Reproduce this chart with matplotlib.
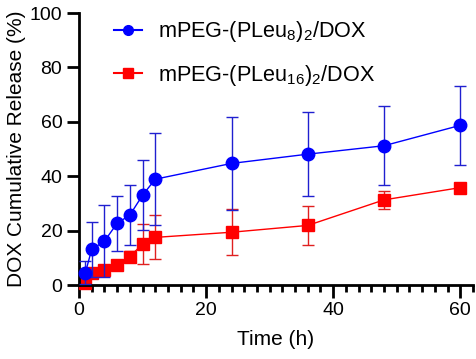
import matplotlib
matplotlib.use('Agg')
import matplotlib.pyplot as plt
from matplotlib.lines import Line2D
from matplotlib.ticker import MultipleLocator

plt.rcParams['font.family'] = ['Liberation Sans', 'DejaVu Sans']
plt.rcParams['mathtext.fontset'] = 'custom'
plt.rcParams['mathtext.rm'] = 'Liberation Sans'
plt.rcParams['mathtext.it'] = 'Liberation Sans:italic'

# release data (time in h, cumulative release in %)
time_h = [1, 2, 4, 6, 8, 10, 12, 24, 36, 48, 60]
pleu8_mean = [4.5, 13.1, 16.1, 22.7, 25.7, 33.0, 38.9, 44.7, 48.1, 51.2, 58.7]
pleu8_sd = [4.3, 10.2, 13.3, 10.1, 11.0, 12.8, 16.8, 17.0, 15.4, 14.5, 14.4]
pleu16_mean = [0.8, 4.3, 5.5, 7.5, 10.4, 15.1, 17.5, 19.4, 21.9, 31.3, 35.8]
pleu16_sd = [1.0, 1.5, 1.5, 1.2, 2.0, 7.5, 8.1, 8.5, 7.3, 3.2, 1.0]

labels = [r'mPEG-(PLeu$\mathregular{_8}$)$\mathregular{_2}$/DOX',
          r'mPEG-(PLeu$\mathregular{_{16}}$)$\mathregular{_2}$/DOX']

fig = plt.figure(figsize=(4.77, 3.59), dpi=100)
ax = fig.add_axes([79 / 477, 1 - 285 / 359, (473 - 79) / 477, (285 - 13) / 359])

ax.errorbar(time_h, pleu8_mean, yerr=pleu8_sd, color='#0000FF', ecolor='#2020D0',
            marker='o', markersize=9, linewidth=1.0, elinewidth=1.0, capsize=4,
            capthick=1.0, zorder=3, clip_on=False)
ax.errorbar(time_h, pleu16_mean, yerr=pleu16_sd, color='#FF0000', ecolor='#E02020',
            marker='s', markersize=8.5, linewidth=1.0, elinewidth=1.0, capsize=4,
            capthick=1.0, zorder=2, clip_on=False)

ax.set_xlim(0, 62)
ax.set_ylim(0, 100)
ax.xaxis.set_major_locator(MultipleLocator(20))
ax.xaxis.set_minor_locator(MultipleLocator(2))
ax.yaxis.set_major_locator(MultipleLocator(20))

for side in ['top', 'right']:
    ax.spines[side].set_visible(False)
for side in ['left', 'bottom']:
    ax.spines[side].set_linewidth(2)

ax.tick_params(axis='both', which='major', length=9, width=2, labelsize=14, pad=3)
ax.tick_params(axis='x', which='minor', length=5, width=2)

ax.set_xlabel('Time (h)', fontsize=15, labelpad=8)
ax.set_ylabel('DOX Cumulative Release (%)', fontsize=15, labelpad=3)

handles = [Line2D([], [], color='#0000FF', marker='o', markersize=7, linewidth=1.5),
           Line2D([], [], color='#FF0000', marker='s', markersize=6.5, linewidth=1.5)]
fig.legend(handles, labels, loc='upper left', bbox_to_anchor=(97 / 477, 1 - 2 / 359),
           frameon=False, fontsize=15.6, handlelength=1.3, handletextpad=0.7,
           labelspacing=0.85, borderpad=0.3)

fig.savefig('out.png', dpi=100)
